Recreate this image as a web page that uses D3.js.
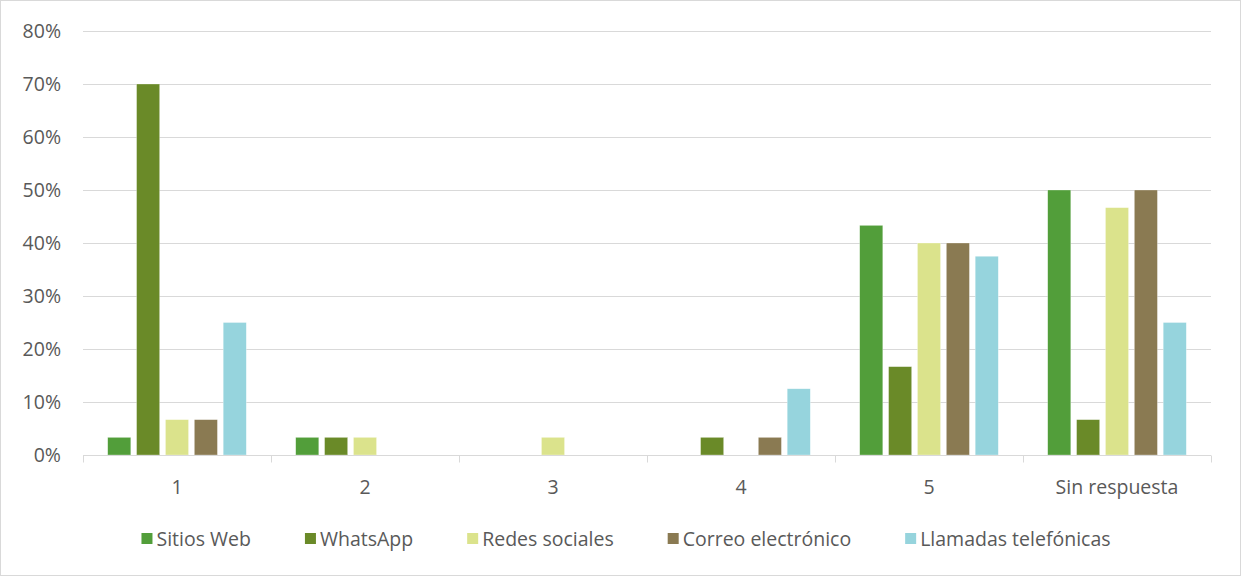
<!DOCTYPE html>
<html lang="es">
<head>
<meta charset="utf-8">
<title>Medios de contacto</title>
<script src="https://d3js.org/d3.v7.min.js"></script>
<style>
	body { margin: 0; background: #fff; }
	text { font-family: "Open Sans", "Noto Sans", sans-serif; fill: #595959; }
	.grid line { stroke: #d9d9d9; stroke-width: 1px; }
</style>
</head>
<body>
<script>
// categorias del eje x
var categories = ["1", "2", "3", "4", "5", "Sin respuesta"];
var seriesNames = ["Sitios Web", "WhatsApp", "Redes sociales", "Correo electrónico", "Llamadas telefónicas"];
var seriesColors = ["#529e3a", "#6a8a28", "#dbe38c", "#8a7a52", "#96d4dd"];

// valores en %
var sitiosWeb = [3.33, 3.33, 0, 0, 43.33, 50];
var whatsApp = [70, 3.33, 0, 3.33, 16.67, 6.67];
var redesSociales = [6.67, 3.33, 3.33, 0, 40, 46.67];
var correo = [6.67, 0, 0, 3.33, 40, 50];
var llamadas = [25, 0, 0, 12.5, 37.5, 25];
var yTicks = [0, 10, 20, 30, 40, 50, 60, 70, 80];

var seriesValues = [sitiosWeb, whatsApp, redesSociales, correo, llamadas];

var width = 1241, height = 576;
var plotLeft = 83, plotRight = 1211, plotTop = 31, plotBottom = 455;
var fontSize = "19.5px";

var svg = d3.select("body").append("svg")
	.attr("width", width)
	.attr("height", height);

svg.append("rect")
	.attr("x", 0.5).attr("y", 0.5)
	.attr("width", width - 1).attr("height", height - 1)
	.attr("fill", "#fff").attr("stroke", "#d9d9d9");

var x = d3.scaleBand().domain(categories).range([plotLeft, plotRight]).padding(0);
var groupPad = 24.7;
var xInner = d3.scaleBand()
	.domain(d3.range(seriesNames.length))
	.range([groupPad, x.bandwidth() - groupPad])
	.paddingInner(0.2);
var y = d3.scaleLinear().domain([0, 80]).range([plotBottom, plotTop]);

// lineas de cuadricula
svg.append("g")
	.attr("class", "grid")
	.selectAll("line")
	.data(yTicks.slice(1))
	.enter().append("line")
	.attr("x1", plotLeft).attr("x2", plotRight)
	.attr("y1", d => Math.round(y(d)) + 0.5)
	.attr("y2", d => Math.round(y(d)) + 0.5);

// eje y
svg.append("g")
	.selectAll("text")
	.data(yTicks)
	.enter().append("text")
	.attr("x", 61)
	.attr("y", d => y(d))
	.attr("dy", "0.36em")
	.attr("text-anchor", "end")
	.style("font-size", fontSize)
	.text(d => d + "%");

// barras
var groups = svg.append("g")
	.selectAll("g")
	.data(seriesValues)
	.enter().append("g")
	.attr("fill", (d, i) => seriesColors[i]);

groups.each(function(vals, si) {
	d3.select(this).selectAll("rect")
		.data(vals)
		.enter().append("rect")
		.attr("x", (d, ci) => x(categories[ci]) + xInner(si))
		.attr("y", d => y(d))
		.attr("width", xInner.bandwidth())
		.attr("height", d => plotBottom - y(d))
		.attr("stroke", "#fff")
		.attr("stroke-opacity", 0.5)
		.attr("stroke-width", 0.6);
});

// eje x
var xAxis = svg.append("g").attr("transform", "translate(0," + (plotBottom + 0.5) + ")");
xAxis.append("line")
	.attr("x1", plotLeft).attr("x2", plotRight)
	.attr("stroke", "#d9d9d9");
xAxis.selectAll("line.tick")
	.data(d3.range(categories.length + 1))
	.enter().append("line")
	.attr("class", "tick")
	.attr("x1", i => Math.round(plotLeft + i * x.bandwidth()) + 0.5)
	.attr("x2", i => Math.round(plotLeft + i * x.bandwidth()) + 0.5)
	.attr("y1", 0).attr("y2", 7)
	.attr("stroke", "#d9d9d9");
xAxis.selectAll("text")
	.data(categories)
	.enter().append("text")
	.attr("x", d => x(d) + x.bandwidth() / 2)
	.attr("y", 38)
	.attr("text-anchor", "middle")
	.style("font-size", fontSize)
	.text(d => d);

// leyenda
var legend = svg.append("g");
var items = legend.selectAll("g")
	.data(seriesNames)
	.enter().append("g");
items.append("rect")
	.attr("width", 11).attr("height", 11)
	.attr("y", 533)
	.attr("fill", (d, i) => seriesColors[i]);
items.append("text")
	.attr("x", 15)
	.attr("y", 546)
	.style("font-size", fontSize)
	.text(d => d);

var offs = [], cur = 0, gap = 54;
items.each(function() {
	offs.push(cur);
	cur += this.getBBox().width + gap;
});
var total = cur - gap;
var startX = 626 - total / 2;
items.attr("transform", (d, i) => "translate(" + (startX + offs[i]) + ",0)");
</script>
</body>
</html>
